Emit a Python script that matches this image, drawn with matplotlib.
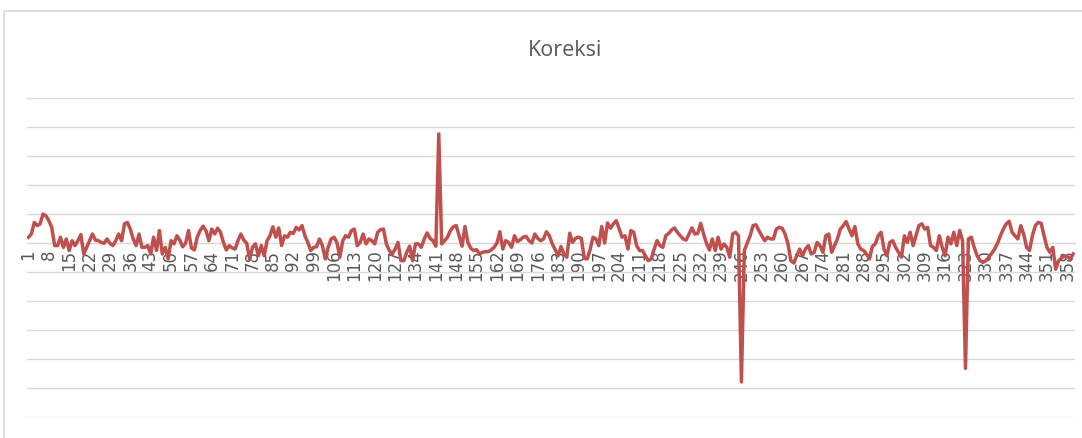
import numpy as np
import matplotlib
matplotlib.use("Agg")
import matplotlib.pyplot as plt
from matplotlib.lines import Line2D

# values, in gridline units (one gridline = 1)
seg_a = [0.20, 0.31, 0.71, 0.60, 0.66, 1.00, 0.94, 0.77, 0.54, -0.09,
         -0.09, 0.20, -0.15, 0.14, -0.26, 0.08, -0.09, 0.08, 0.29, -0.38,
         -0.15, 0.08, 0.31, 0.10, 0.08, 0.02, -0.01, 0.14, -0.01, -0.09,
         0.08, 0.31, 0.08, 0.66, 0.71, 0.48, 0.14, -0.09, 0.31, -0.15,
         -0.15, -0.09, -0.38, 0.20, -0.26, 0.43, -0.38, -0.15, -0.55, 0.08,
         -0.03]
seg_b = [0.25, 0.10, -0.13, -0.01, 0.43, -0.17, -0.24, 0.20, 0.43, 0.58,
         0.43, 0.08, 0.48, 0.31, 0.51, 0.37, 0.02, -0.24, -0.09, -0.17,
         -0.21, 0.08, 0.31, 0.10, -0.01, -0.55, -0.15, -0.03, -0.44, -0.09,
         -0.44, 0.08, 0.25, 0.56, 0.20, 0.52, -0.09, 0.25, 0.20, 0.37,
         0.33, 0.54, 0.45, 0.60, 0.25, 0.02, -0.26, -0.15, -0.13, 0.14,
         -0.09]
seg_c = [-0.55, -0.15, 0.14, 0.20, 0.02, -0.49, 0.08, 0.25, 0.20, 0.43,
         0.48, -0.09, 0.02, 0.31, -0.03, 0.14, 0.08, -0.03, 0.37, 0.46,
         0.48, -0.03, -0.26, -0.38, -0.21, 0.02, -0.61, -0.61, -0.32, -0.11,
         -0.61, -0.03, -0.03, -0.15, 0.14, 0.35, 0.16, 0.08, -0.11, 3.76,
         -0.03, 0.08, 0.20, 0.43, 0.56, 0.60, 0.25, -0.11, 0.57, 0.02,
         -0.18, -0.26]
seg_d = [-0.23, -0.38, -0.32, -0.30, -0.30, -0.24, -0.15, 0.00, 0.39, -0.21,
         0.08, 0.02, -0.15, 0.25, 0.05, 0.11, 0.20, 0.23, 0.08, 0.00,
         0.31, 0.16, 0.08, 0.14, 0.39, 0.25, -0.03, -0.23, -0.44, -0.12,
         -0.38, -0.49, 0.34, 0.02, 0.16, 0.20, 0.16, -0.53, -0.55, -0.23,
         0.20, 0.14, -0.09, 0.57, 0.00, 0.69, 0.51, 0.66, 0.77, 0.48,
         0.20]
seg_e = [0.25, -0.21, 0.43, 0.37, -0.09, -0.26, -0.26, -0.44, -0.61, -0.55,
         -0.21, 0.08, -0.09, -0.15, 0.25, 0.33, 0.45, 0.52, 0.37, 0.25,
         0.14, 0.10, 0.31, 0.52, 0.31, 0.33, 0.68, 0.31, -0.01, -0.24,
         0.14, -0.26, 0.20, -0.21, -0.03, -0.15, -0.49, 0.31, 0.37, 0.25,
         -4.79, -0.26, -0.01, 0.25, 0.60, 0.63, 0.43, 0.25, 0.08, 0.20,
         0.14, 0.14]
seg_f = [0.48, 0.54, 0.51, 0.31, -0.03, -0.61, -0.69, -0.44, -0.21, -0.44,
         -0.21, -0.09, -0.38, -0.32, 0.02, -0.09, -0.32, 0.25, 0.31, -0.32,
         -0.09, 0.14, 0.48, 0.60, 0.74, 0.48, 0.25, 0.57, -0.03, -0.21,
         -0.26, -0.38, -0.55, -0.12, -0.03, 0.25, 0.37, -0.21, -0.44, 0.02,
         0.08, -0.15, -0.32, -0.49, 0.25, 0.02, 0.37, -0.09, 0.25, 0.60,
         0.66]
seg_g = [0.48, 0.54, -0.09, -0.15, -0.26, 0.25, -0.15, -0.44, 0.20, -0.03,
         0.37, -0.09, 0.43, 0.08, -4.32, 0.14, 0.20, -0.15, -0.44, -0.61,
         -0.67, -0.61, -0.49, -0.36, -0.21, -0.01, 0.25, 0.48, 0.66, 0.75,
         0.37, 0.25, 0.14, 0.60, 0.31, -0.15, -0.26, 0.25, 0.60, 0.71,
         0.68, 0.25, -0.15, -0.32, -0.15, -0.90, -0.61, -0.52, -0.44, -0.47,
         -0.55, -0.38]

koreksi = seg_a + seg_b + seg_c + seg_d + seg_e + seg_f + seg_g
days = np.arange(1, len(koreksi) + 1)
label_days = days[::7]

GRID = "#d9d9d9"
TEXT = "#595959"
RED = "#c0504d"

fig = plt.figure(figsize=(10.82, 4.39), dpi=100)

# chart area border (cropped on the right and bottom)
fig.add_artist(Line2D([4 / 1082, 4 / 1082, 1.0], [0.0, 1 - 12 / 439, 1 - 12 / 439],
                      transform=fig.transFigure, color=GRID, lw=1.2))

ax = fig.add_axes([27 / 1082, 1 - 418 / 439, 1047.6 / 1082, 319 / 439])
ax.plot(days, koreksi, color=RED, lw=2.5, solid_joinstyle="round", zorder=3)

ax.set_xlim(0.5, len(koreksi) + 0.5)
ax.set_ylim(-6, 5)
ax.set_yticks(range(-6, 6))
ax.yaxis.grid(True, color=GRID, lw=1.0)
ax.set_axisbelow(True)
ax.tick_params(axis="y", left=False, labelleft=False)

for s in ["left", "right", "top"]:
    ax.spines[s].set_visible(False)
ax.spines["bottom"].set_position(("data", 0))
ax.spines["bottom"].set_color(GRID)
ax.spines["bottom"].set_zorder(1)

ax.set_xticks(label_days)
ax.set_xticklabels([str(d) for d in label_days], rotation=90, fontsize=12, color=TEXT)
ax.tick_params(axis="x", length=0, pad=4)

fig.text(565 / 1082, 1 - 50 / 439, "Koreksi", ha="center", va="center",
         fontsize=15.5, color=TEXT, family=["Open Sans", "DejaVu Sans"])

fig.savefig("out.png", dpi=100)
